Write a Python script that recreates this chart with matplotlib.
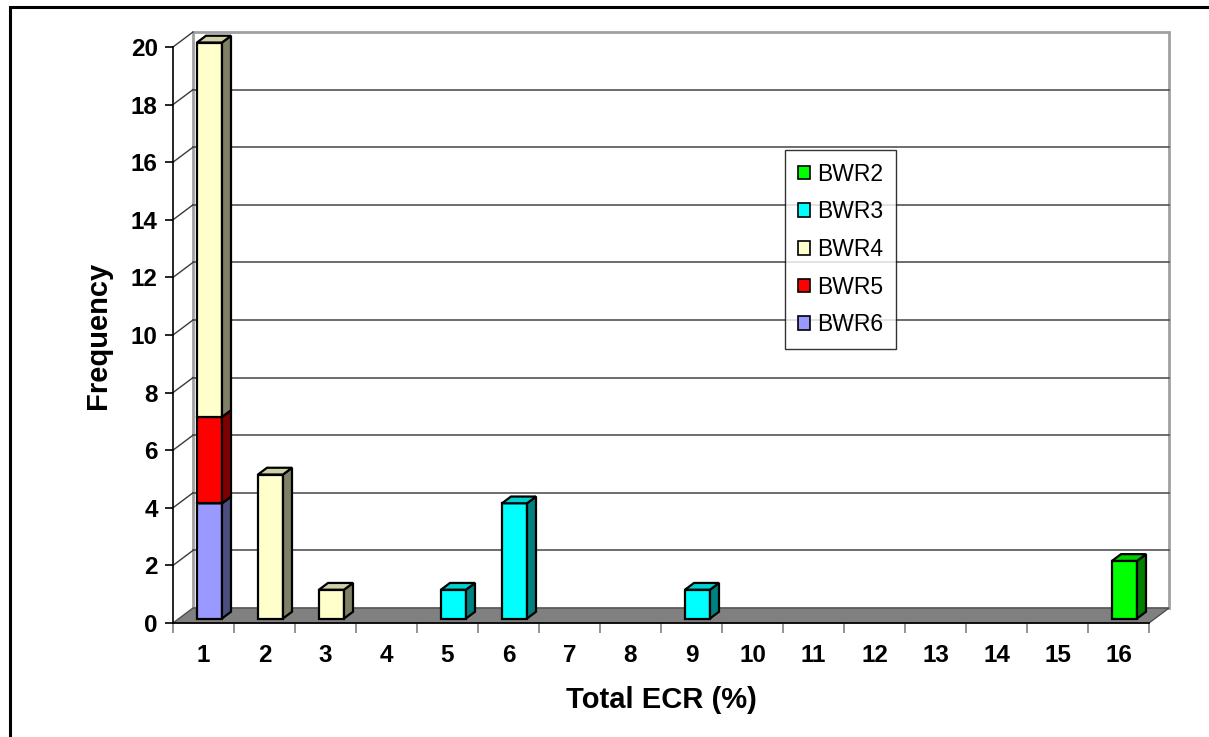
import matplotlib
matplotlib.use('Agg')
import matplotlib.pyplot as plt
from matplotlib.patches import Polygon, Patch, Rectangle
import numpy as np

# ---------------- data ----------------
categories = [str(i) for i in range(1, 17)]
series_names = ['BWR2', 'BWR3', 'BWR4', 'BWR5', 'BWR6']
bwr2 = [0, 0, 0, 0, 0, 0, 0, 0, 0, 0, 0, 0, 0, 0, 0, 2]
bwr3 = [0, 0, 0, 0, 1, 4, 0, 0, 1, 0, 0, 0, 0, 0, 0, 0]
bwr4 = [13, 5, 1, 0, 0, 0, 0, 0, 0, 0, 0, 0, 0, 0, 0, 0]
bwr5 = [3, 0, 0, 0, 0, 0, 0, 0, 0, 0, 0, 0, 0, 0, 0, 0]
bwr6 = [4, 0, 0, 0, 0, 0, 0, 0, 0, 0, 0, 0, 0, 0, 0, 0]
y_ticks = [0, 2, 4, 6, 8, 10, 12, 14, 16, 18, 20]
colors = {'BWR2': '#00FF00', 'BWR3': '#00FFFF', 'BWR4': '#FFFFCC',
          'BWR5': '#FF0000', 'BWR6': '#9999FF'}
values = {'BWR2': bwr2, 'BWR3': bwr3, 'BWR4': bwr4, 'BWR5': bwr5, 'BWR6': bwr6}
stack_order = ['BWR6', 'BWR5', 'BWR4', 'BWR3', 'BWR2']

plt.rcParams['font.family'] = ['Liberation Sans', 'DejaVu Sans']

W, H = 1209, 737
fig = plt.figure(figsize=(W / 100, H / 100), dpi=100)

# axes placed in pixels: front plane x 173..1149, y 623 (0) .. 47 (20)
x0p, x1p, y0p, y1p = 173, 1149, 623, 47
ax = fig.add_axes([x0p / W, 1 - y0p / H, (x1p - x0p) / W, (y0p - y1p) / H])
ax.set_xlim(0.5, 16.5)
ax.set_ylim(0, 20)
ax.set_facecolor('none')

px_x = (x1p - x0p) / 16.0
px_y = (y0p - y1p) / 20.0
DX = 20 / px_x   # full depth offset in category units
DY = 15 / px_y   # full depth offset in value units

# outer border
fig.patches.append(Rectangle((10 / W, -0.1), 1.2, 1 - 7 / H + 0.1, transform=fig.transFigure,
                             fill=False, edgecolor='black', linewidth=2.2, zorder=0))

# back wall
ax.add_patch(Rectangle((0.5 + DX, DY), 16, 20, facecolor='white', edgecolor='#A0A0A0',
                       linewidth=2.0, clip_on=False, zorder=1))
for yv in y_ticks[1:-1]:
    ax.plot([0.5 + DX, 16.5 + DX], [yv + DY, yv + DY], color='#454545', lw=1.1,
            clip_on=False, zorder=1.5)
# side wall diagonals
for yv in y_ticks[1:]:
    ax.plot([0.5, 0.5 + DX], [yv, yv + DY], color='#3A3A3A', lw=1.0, clip_on=False, zorder=1.5)
# floor
ax.add_patch(Polygon([(0.5, 0), (16.5, 0), (16.5 + DX, DY), (0.5 + DX, DY)], closed=True,
                     facecolor='#808080', edgecolor='#505050', linewidth=1.0,
                     clip_on=False, zorder=2))


def shade(hexcol, f):
    r, g, b = matplotlib.colors.to_rgb(hexcol)
    return (r * f, g * f, b * f)


# bars
xpos = np.arange(1, 17)
bw = 25 / px_x
z0, z1 = 0.3, 0.75
cum = np.zeros(16)
for name in stack_order:
    vals = np.array(values[name], dtype=float)
    mask = vals > 0
    xs = xpos[mask] + z0 * DX
    bottoms = cum[mask] + z0 * DY
    ax.bar(xs, vals[mask], width=bw, bottom=bottoms, color=colors[name],
           edgecolor='black', linewidth=1.6, zorder=5, clip_on=False)
    for xc, b0, v in zip(xs, bottoms, vals[mask]):
        xr = xc + bw / 2
        xl = xc - bw / 2
        ddx = (z1 - z0) * DX
        ddy = (z1 - z0) * DY
        side = Polygon([(xr, b0), (xr + ddx, b0 + ddy), (xr + ddx, b0 + v + ddy), (xr, b0 + v)],
                       closed=True, facecolor=shade(colors[name], 0.5), edgecolor='black',
                       linewidth=1.6, zorder=5, clip_on=False)
        top = Polygon([(xl, b0 + v), (xr, b0 + v), (xr + ddx, b0 + v + ddy), (xl + ddx, b0 + v + ddy)],
                      closed=True, facecolor=shade(colors[name], 0.82), edgecolor='black',
                      linewidth=1.6, zorder=5, clip_on=False)
        ax.add_patch(side)
        ax.add_patch(top)
    cum = cum + vals

# spines / ticks
for s in ['top', 'right']:
    ax.spines[s].set_visible(False)
ax.spines['left'].set_color('black')
ax.spines['bottom'].set_color('black')
ax.spines['left'].set_linewidth(1.2)
ax.spines['bottom'].set_linewidth(1.2)
ax.spines['left'].set_zorder(3)
ax.spines['bottom'].set_zorder(3)

ax.set_yticks(y_ticks)
ax.set_yticklabels([str(v) for v in y_ticks], fontsize=17.5, fontweight='bold')
ax.tick_params(axis='y', direction='out', length=6, width=1.2, pad=5, color='black')

ax.set_xticks(np.arange(0.5, 17.0, 1.0))
ax.set_xticklabels([''] * 17)
ax.tick_params(axis='x', which='major', direction='out', length=7, width=1.2, color='#808080')
ax.set_xticks(xpos, minor=True)
ax.set_xticklabels(categories, minor=True, fontsize=17.5, fontweight='bold')
ax.tick_params(axis='x', which='minor', length=0, pad=15)

ax.set_xlabel('Total ECR (%)', fontsize=21, fontweight='bold')
ax.xaxis.set_label_coords(0.5, (y0p - 686) / (y0p - y1p))
ax.set_ylabel('Frequency', fontsize=21, fontweight='bold')
ax.yaxis.set_label_coords((112 - x0p) / (x1p - x0p), 0.5)

# legend
handles = [Patch(facecolor=colors[n], edgecolor='black', linewidth=1.2) for n in series_names]
leg = fig.legend(handles, series_names, loc='upper left',
                 bbox_to_anchor=(785 / W, 1 - 150 / H), fontsize=16.5, frameon=True,
                 fancybox=False, edgecolor='black', handlelength=0.55, handleheight=0.55,
                 handletextpad=0.3, labelspacing=0.64, borderpad=0.55, borderaxespad=0)
leg.get_frame().set_linewidth(1.0)

fig.savefig('out.png', dpi=100, facecolor='white')
